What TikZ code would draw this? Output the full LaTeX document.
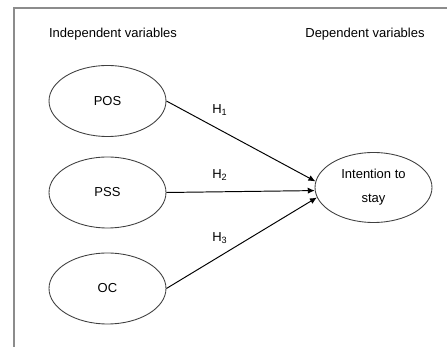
\documentclass[tikz,border=0pt]{standalone}
\usepackage{fontspec}
\setmainfont{Liberation Sans}
\usetikzlibrary{shapes.geometric,arrows.meta}
\begin{document}
\begin{tikzpicture}[x=0.02cm, y=-0.02cm, >={Latex[length=4pt,width=3.5pt]},
		every node/.style={font=\fontsize{7.4}{13.6}\selectfont},
		var/.style={ellipse, draw=black!75, line width=0.5pt, inner sep=0pt, minimum width=2.34cm, minimum height=1.42cm, align=center},
		path/.style={->, line width=0.55pt},
		hyp/.style={inner sep=1pt}]
				% 边框与画布
				\useasboundingbox (0,0) rectangle (447,347);
				\draw[black!45, line width=0.7pt] (14,347) -- (14,8) -- (447,8);
				
				% 标题
				\node (indep) at (113,34) {Independent variables};
				\node (dep) at (365,34) {Dependent variables};
				
				% 自变量
				\node[var] (pos) at (107.5,101) {POS};
				\node[var] (pss) at (107.5,192.5) {PSS};
				\node[var] (oc) at (107.5,288.5) {OC};
				
				% 因变量
				\node[var, minimum height=1.40cm] (its) at (373.5,187.5) {Intention to\\stay};
				
				% 假设路径
				\draw[path] (pos.east) -- (its.174);
				\draw[path] (pss.east) -- (its.183);
				\draw[path] (oc.east) -- (its.190);
				
				% 路径标签
				\node[hyp] (h1) at (220,110) {H\textsubscript{1}};
				\node[hyp] (h2) at (220,175) {H\textsubscript{2}};
				\node[hyp] (h3) at (220,238) {H\textsubscript{3}};
			\end{tikzpicture}
\end{document}
